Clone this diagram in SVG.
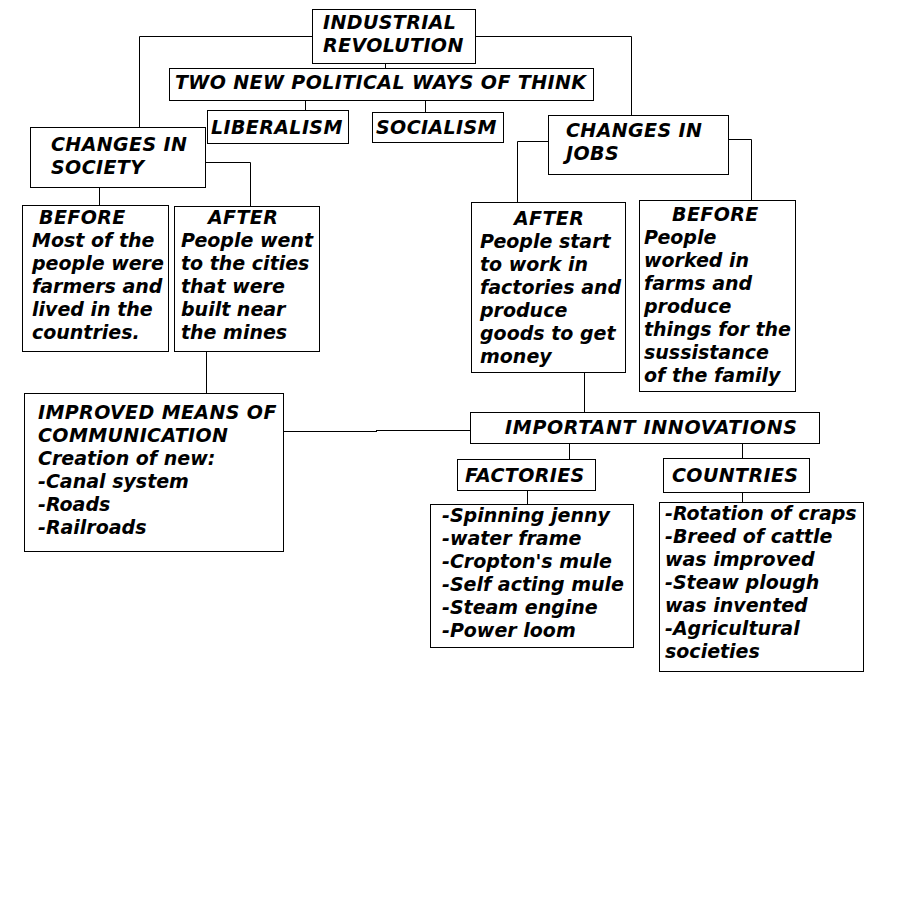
<svg xmlns="http://www.w3.org/2000/svg" width="907" height="917" viewBox="0 0 907 917">
<style>
.box{fill:#fff;stroke:#000;stroke-width:1}
.c{fill:none;stroke:#000;stroke-width:1}
text{font-family:"DejaVu Sans","Verdana",sans-serif;font-weight:bold;font-style:italic;font-size:19px;fill:#000}
.k{letter-spacing:0.4px}
.kw{letter-spacing:0.7px}
</style>
<rect x="0" y="0" width="907" height="917" fill="#fff"/>
<g id="connectors">
<path class="c" d="M312,36.5 H139.5 V127"/>
<path class="c" d="M475,36.5 H631.5 V115"/>
<path class="c" d="M385.5,63 V68"/>
<path class="c" d="M305.5,100 V110"/>
<path class="c" d="M425.5,100 V112"/>
<path class="c" d="M205,162.5 H250.5 V206"/>
<path class="c" d="M99.5,187 V205"/>
<path class="c" d="M206.5,351 V393"/>
<path class="c" d="M548,141.5 H517.5 V202"/>
<path class="c" d="M728,139.5 H751.5 V200"/>
<path class="c" d="M584.5,372 V412"/>
<path class="c" d="M283,431.5 H377 M376,430.5 H470"/>
<path class="c" d="M569.5,443 V459"/>
<path class="c" d="M742.5,443 V458"/>
<path class="c" d="M527.5,490 V504"/>
<path class="c" d="M742.5,492 V502"/>
</g>
<g id="industrial-revolution">
<rect class="box" x="312.5" y="9.5" width="163" height="54"/>
<text class="k" x="323" y="29">INDUSTRIAL</text>
<text class="k" x="323" y="52">REVOLUTION</text>
</g>
<g id="two-new-political">
<rect class="box" x="169.5" y="68.5" width="424" height="32"/>
<text class="k" x="175" y="89">TWO NEW POLITICAL WAYS OF THINK</text>
</g>
<g id="liberalism">
<rect class="box" x="207.5" y="110.5" width="141" height="33"/>
<text class="k" x="211" y="134">LIBERALISM</text>
</g>
<g id="socialism">
<rect class="box" x="372.5" y="112.5" width="131" height="30"/>
<text class="k" x="376" y="134">SOCIALISM</text>
</g>
<g id="changes-in-jobs">
<rect class="box" x="548.5" y="115.5" width="180" height="59"/>
<text class="k" x="566" y="137">CHANGES IN</text>
<text class="k" x="566" y="160">JOBS</text>
</g>
<g id="changes-in-society">
<rect class="box" x="30.5" y="127.5" width="175" height="60"/>
<text class="k" x="51" y="151">CHANGES IN</text>
<text class="k" x="51" y="174">SOCIETY</text>
</g>
<g id="society-before">
<rect class="box" x="22.5" y="205.5" width="146" height="146"/>
<text class="k" x="39" y="224">BEFORE</text>
<text x="32" y="247">Most of the</text>
<text x="32" y="270">people were</text>
<text x="32" y="293">farmers and</text>
<text x="32" y="316">lived in the</text>
<text x="32" y="339">countries.</text>
</g>
<g id="society-after">
<rect class="box" x="174.5" y="206.5" width="145" height="145"/>
<text class="k" x="208" y="224">AFTER</text>
<text x="181" y="247">People went</text>
<text x="181" y="270">to the cities</text>
<text x="181" y="293">that were</text>
<text x="181" y="316">built near</text>
<text x="181" y="339">the mines</text>
</g>
<g id="jobs-after">
<rect class="box" x="471.5" y="202.5" width="154" height="170"/>
<text class="k" x="514" y="225">AFTER</text>
<text x="480" y="248">People start</text>
<text x="480" y="271">to work in</text>
<text x="480" y="294">factories and</text>
<text x="480" y="317">produce</text>
<text x="480" y="340">goods to get</text>
<text x="480" y="363">money</text>
</g>
<g id="jobs-before">
<rect class="box" x="639.5" y="200.5" width="156" height="191"/>
<text class="k" x="672" y="221">BEFORE</text>
<text x="644" y="244">People</text>
<text x="644" y="267">worked in</text>
<text x="644" y="290">farms and</text>
<text x="644" y="313">produce</text>
<text x="644" y="336">things for the</text>
<text x="644" y="359">sussistance</text>
<text x="644" y="382">of the family</text>
</g>
<g id="improved-means">
<rect class="box" x="24.5" y="393.5" width="259" height="158"/>
<text class="k" x="38" y="419">IMPROVED MEANS OF</text>
<text class="k" x="38" y="442">COMMUNICATION</text>
<text x="38" y="465">Creation of new:</text>
<text x="38" y="488">-Canal system</text>
<text x="38" y="511">-Roads</text>
<text x="38" y="534">-Railroads</text>
</g>
<g id="important-innovations">
<rect class="box" x="470.5" y="412.5" width="349" height="31"/>
<text class="kw" x="505" y="434">IMPORTANT INNOVATIONS</text>
</g>
<g id="factories">
<rect class="box" x="457.5" y="459.5" width="138" height="31"/>
<text class="k" x="465" y="482">FACTORIES</text>
</g>
<g id="countries">
<rect class="box" x="663.5" y="458.5" width="146" height="34"/>
<text class="k" x="672" y="482">COUNTRIES</text>
</g>
<g id="factories-list">
<rect class="box" x="430.5" y="504.5" width="203" height="143"/>
<text x="442" y="522">-Spinning jenny</text>
<text x="442" y="545">-water frame</text>
<text x="442" y="568">-Cropton's mule</text>
<text x="442" y="591">-Self acting mule</text>
<text x="442" y="614">-Steam engine</text>
<text x="442" y="637">-Power loom</text>
</g>
<g id="countries-list">
<rect class="box" x="659.5" y="502.5" width="204" height="169"/>
<text x="665" y="520">-Rotation of craps</text>
<text x="665" y="543">-Breed of cattle</text>
<text x="665" y="566">was improved</text>
<text x="665" y="589">-Steaw plough</text>
<text x="665" y="612">was invented</text>
<text x="665" y="635">-Agricultural</text>
<text x="665" y="658">societies</text>
</g>
</svg>
